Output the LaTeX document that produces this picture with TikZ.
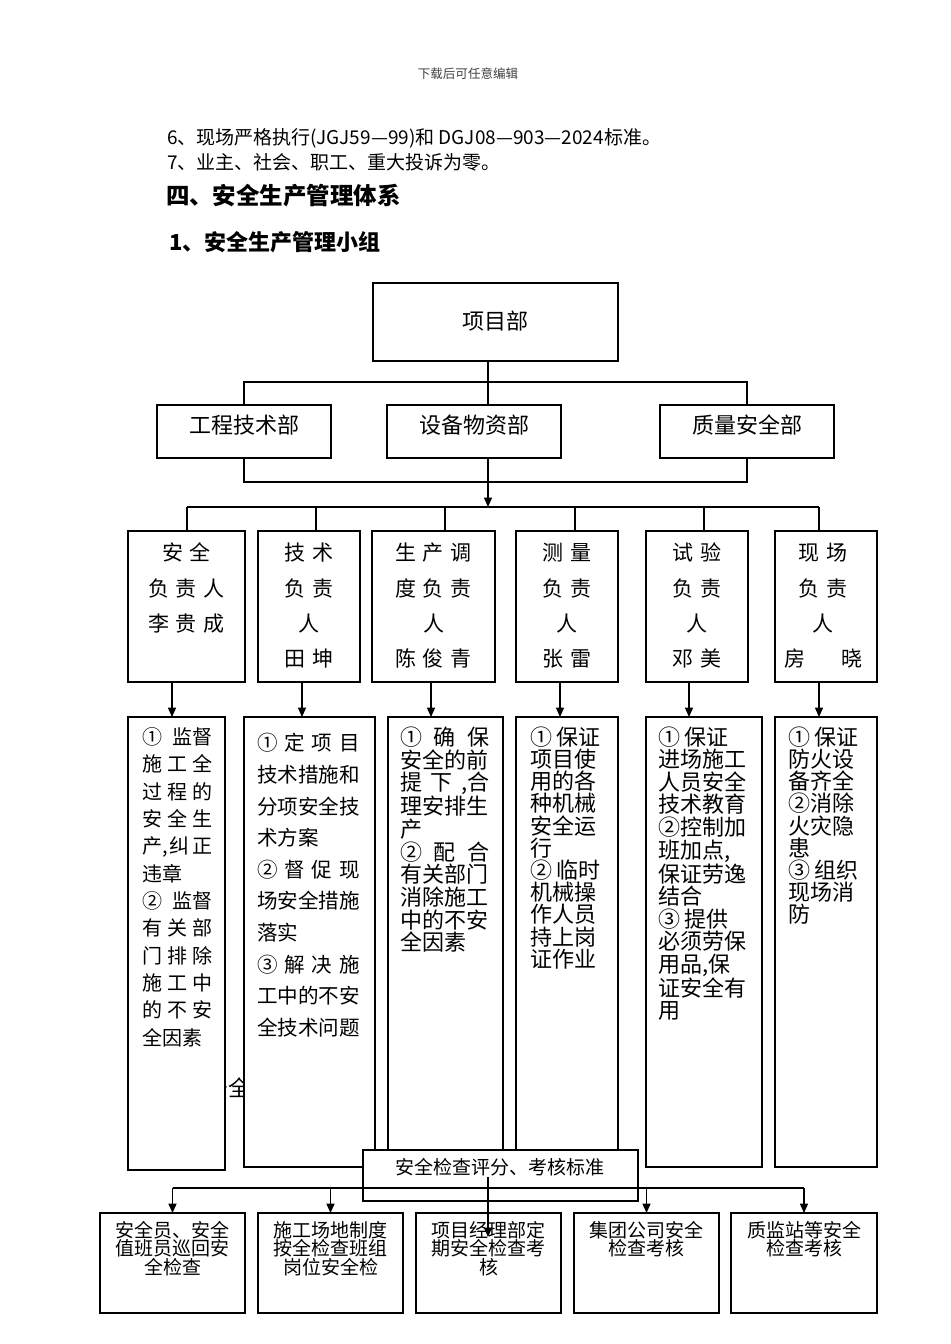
\documentclass[tikz,border=0pt]{standalone}
\usepackage{fontspec}
\setmainfont{Noto Sans CJK SC}
\usetikzlibrary{arrows.meta}
\newcommand\cgap{\hspace{5pt}}
\newcommand\fl{\rule{0pt}{.88em}}
\newcommand\jw[2]{\makebox[#1][s]{#2}}
\newcommand\fs[2]{\fontsize{#1}{#2}\selectfont}
\newcommand\mkbox[5]{\node[box, minimum width={(#4-#2)*0.75pt}, minimum height={(#5-#3)*0.75pt}] (#1) at ({(#2+#4)/2},{(#3+#5)/2}) {};}
\tikzset{
 box/.style={draw, line width=1pt, fill=white, inner sep=0pt, outer sep=0pt},
 lbl/.style={inner sep=0pt, outer sep=0pt},
 arr/.style={-{Triangle[length=7pt,width=6pt]}},
 ln/.style={line width=1pt},
}
\begin{document}
\begin{tikzpicture}[x=0.75pt,y=-0.75pt]
\useasboundingbox (0,0) rectangle (950,1344);
% ---- page text
\node[lbl, font=\fs{9.4}{11}, text=black!75] (hdr) at (468,74) {下载后可任意编辑};
\node[lbl, anchor=west, font=\fs{14.25}{17}] (l6) at (167,138) {6、现场严格执行(JGJ59—99)和 DGJ08—903—2024标准。};
\node[lbl, anchor=west, font=\fs{14.25}{17}] (l7) at (167,162) {7、业主、社会、职工、重大投诉为零。};
\node[lbl, anchor=west, font=\fs{17.6}{20}\bfseries] (h4) at (166,196) {四、安全生产管理体系};
\node[lbl, anchor=west, font=\fs{16.5}{19}\bfseries] (h41) at (169,242) {1、安全生产管理小组};
% ---- top levels
\mkbox{pm}{373}{283}{618}{361}
\node[lbl, font=\fs{16.5}{19}] (pmt) at (495,321) {项目部};
\mkbox{eng}{157}{405}{331}{458}
\mkbox{eq}{387}{405}{561}{458}
\mkbox{qs}{660}{405}{834}{458}
\node[lbl, font=\fs{16.5}{19}] (engt) at (244,425) {工程技术部};
\node[lbl, font=\fs{16.5}{19}] (eqt) at (474,425) {设备物资部};
\node[lbl, font=\fs{16.5}{19}] (qst) at (747,425) {质量安全部};
\coordinate (spine) at (488,0);
\coordinate (bus1) at (488,382);
\coordinate (bus2) at (488,482);
\coordinate (bus3) at (488,507);
\draw[ln] (pm.south -| spine) -- (eq.north -| spine);
\draw[ln] (eng.north) -- (eng.north |- bus1) -- (qs.north |- bus1) -- (qs.north);
\draw[ln] (eng.south) -- (eng.south |- bus2) -- (qs.south |- bus2) -- (qs.south);
\draw[ln, arr] (eq.south -| spine) -- (bus3);
% ---- persons row
\mkbox{p1}{128}{531}{245}{682}
\mkbox{p2}{258}{531}{360}{682}
\mkbox{p3}{372}{531}{495}{682}
\mkbox{p4}{516}{531}{618}{682}
\mkbox{p5}{646}{531}{748}{682}
\mkbox{p6}{775}{531}{877}{682}
\coordinate (s1) at (187,507);
\coordinate (s2) at (316,507);
\coordinate (s3) at (445,507);
\coordinate (s4) at (575,507);
\coordinate (s5) at (704,507);
\coordinate (s6) at (819,507);
\draw[ln] (s1) -- (s6);
\foreach \i in {1,...,6} {\draw[ln] (s\i) -- (s\i |- p\i.north);}
\tikzset{ptxt/.style={lbl, anchor=north, align=center, font=\fs{15.75}{26.5}}}
\node[ptxt] (p1t) at (186.5,542.5) {\fl 安\cgap 全\\负\cgap 责\cgap 人\\李\cgap 贵\cgap 成};
\node[ptxt] (p2t) at (309,542.5) {\fl 技\cgap 术\\负\cgap 责\\人\\田\cgap 坤};
\node[ptxt] (p3t) at (433.5,542.5) {\fl 生\cgap 产\cgap 调\\度\cgap 负\cgap 责\\人\\陈\cgap 俊\cgap 青};
\node[ptxt] (p4t) at (567,542.5) {\fl 测\cgap 量\\负\cgap 责\\人\\张\cgap 雷};
\node[ptxt] (p5t) at (697,542.5) {\fl 试\cgap 验\\负\cgap 责\\人\\邓\cgap 美};
\node[ptxt] (p6t) at (823,542.5) {\fl 现\cgap 场\\负\cgap 责\\人\\房\hspace{27pt}晓};
% ---- duty boxes
\node[lbl, anchor=east, font=\fs{16.5}{18}] (stray) at (250,1088) {安全};
\mkbox{d1}{128}{717}{225}{1170}
\mkbox{d2}{244}{717}{375}{1167}
\mkbox{d3}{388}{717}{503}{1168}
\mkbox{d4}{516}{717}{618}{1168}
\mkbox{d5}{646}{717}{762}{1167}
\mkbox{d6}{775}{717}{877}{1167}
\coordinate (a1) at (172,700);
\coordinate (a2) at (302,700);
\coordinate (a3) at (431,700);
\coordinate (a4) at (560,700);
\coordinate (a5) at (689,700);
\coordinate (a6) at (819,700);
\foreach \i in {1,...,6} {\draw[ln, arr] (p\i.south -| a\i) -- (d\i.north -| a\i);}
\node[lbl, anchor=north west, align=left, font=\fs{15}{20.5}] (d1t) at (142,727) {\fl\jw{52.5pt}{①\hfill 监督}\\\jw{52.5pt}{施\hfill 工\hfill 全}\\\jw{52.5pt}{过\hfill 程\hfill 的}\\\jw{52.5pt}{安\hfill 全\hfill 生}\\\jw{52.5pt}{产,\hfill 纠\hfill 正}\\违章\\\jw{52.5pt}{②\hfill 监督}\\\jw{52.5pt}{有\hfill 关\hfill 部}\\\jw{52.5pt}{门\hfill 排\hfill 除}\\\jw{52.5pt}{施\hfill 工\hfill 中}\\\jw{52.5pt}{的\hfill 不\hfill 安}\\全因素};
\node[lbl, anchor=north west, align=left, font=\fs{15.4}{23.7}] (d2t) at (257,732.75) {\fl\jw{77.25pt}{①\hfill 定\hfill 项\hfill 目}\\技术措施和\\分项安全技\\术方案\\\jw{77.25pt}{②\hfill 督\hfill 促\hfill 现}\\场安全措施\\落实\\\jw{77.25pt}{③\hfill 解\hfill 决\hfill 施}\\工中的不安\\全技术问题};
\node[lbl, anchor=north west, align=left, font=\fs{16.5}{17}] (d3t) at (400,726) {\fl\jw{67.5pt}{①\hfill 确\hfill 保}\\安全的前\\\jw{67.5pt}{提\hfill 下\hfill ,合}\\理安排生\\产\\\jw{67.5pt}{②\hfill 配\hfill 合}\\有关部门\\消除施工\\中的不安\\全因素};
\node[lbl, anchor=north west, align=left, font=\fs{16.5}{16.65}] (d4t) at (530,726) {\fl ① 保证\\项目使\\用的各\\种机械\\安全运\\行\\② 临时\\机械操\\作人员\\持上岗\\证作业};
\node[lbl, anchor=north west, align=left, font=\fs{16.5}{16.9}] (d5t) at (658,726) {\fl ① 保证\\进场施工\\人员安全\\技术教育\\②控制加\\班加点,\\保证劳逸\\结合\\③ 提供\\必须劳保\\用品,保\\证安全有\\用};
\node[lbl, anchor=north west, align=left, font=\fs{16.5}{16.65}] (d6t) at (788,726) {\fl ① 保证\\防火设\\备齐全\\②消除\\火灾隐\\患\\③ 组织\\现场消\\防};
% ---- inspection
\mkbox{chk}{363}{1150}{638}{1201}
\node[lbl, font=\fs{14.25}{17}] (chkt) at (500,1167) {安全检查评分、考核标准};
\mkbox{f1}{100}{1213}{245}{1313}
\mkbox{f2}{258}{1213}{403}{1313}
\mkbox{f3}{416}{1213}{561}{1313}
\mkbox{f4}{574}{1213}{719}{1313}
\mkbox{f5}{731}{1213}{877}{1313}
\coordinate (hb) at (488,1188);
\draw[ln] (f1.north |- hb) -- (f5.north |- hb);
\foreach \f in {f1,f2,f4,f5} {\draw[ln, arr] (\f.north |- hb) -- (\f.north);}
\tikzset{ftxt/.style={lbl, anchor=north, align=center, font=\fs{14.25}{13.9}}}
\node[ftxt] (f1t) at (172.5,1220.5) {\fl 安全员、安全\\值班员巡回安\\全检查};
\node[ftxt] (f2t) at (330.5,1220.5) {\fl 施工场地制度\\按全检查班组\\岗位安全检};
\node[ftxt] (f3t) at (488.5,1220.5) {\fl 项目经理部定\\期安全检查考\\核};
\node[ftxt] (f4t) at (646.5,1220.5) {\fl 集团公司安全\\检查考核};
\node[ftxt] (f5t) at (804,1220.5) {\fl 质监站等安全\\检查考核};
\coordinate (vs) at (488,1177);
\coordinate (ve) at (488,1237);
\draw[ln, arr] (vs) -- (ve);
\end{tikzpicture}
\end{document}
